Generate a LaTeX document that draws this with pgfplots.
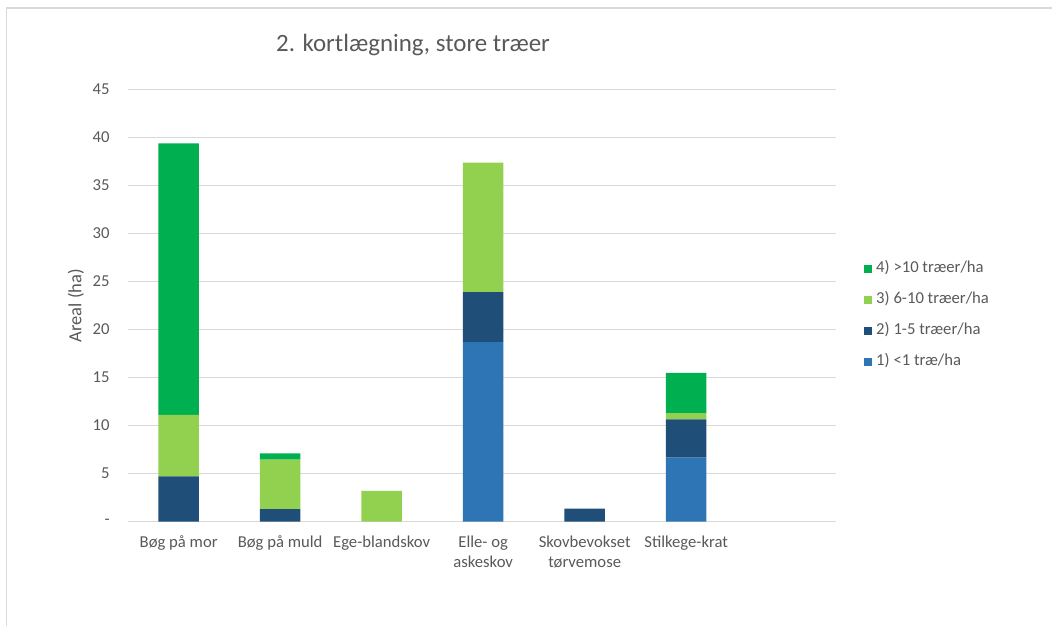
\documentclass[border=0pt]{standalone}
\usepackage{fontspec}
\setmainfont{Carlito}
\usepackage{pgfplots}
\pgfplotsset{compat=1.18}
\definecolor{cA}{HTML}{2E75B6}
\definecolor{cB}{HTML}{1F4E79}
\definecolor{cC}{HTML}{92D050}
\definecolor{cD}{HTML}{00B050}
\definecolor{txt}{HTML}{595959}
\definecolor{gridc}{HTML}{D9D9D9}
\pgfplotsset{sqlegend/.style={legend image code/.code={\fill[##1] (0pt,-3pt) rectangle (6pt,3pt);}}}
\begin{document}
\begin{tikzpicture}[x=0.75pt,y=0.75pt]
\path[use as bounding box] (0,0) rectangle (1052,626);
\draw[gridc, line width=1.2pt] (6.5,0) -- (6.5,618) -- (1052,618);
\node[font=\fontsize{18.7}{22}\selectfont, text=txt] at (413,581) {2. kortlægning, store træer};
\begin{axis}[
  at={(126,108.8)}, anchor=south west,
  scale only axis, width=531pt, height=324pt,
  ybar stacked, bar width=0.4,
  xmin=-0.5, xmax=6.475, ymin=0, ymax=45,
  xtick={0,1,2,3,4,5},
  xticklabels={Bøg på mor, Bøg på muld, Ege-blandskov, {Elle- og\\askeskov}, {Skovbevokset\\tørvemose}, Stilkege-krat},
  ytick={0,5,...,45},
  yticklabels={-,5,10,15,20,25,30,35,40,45},
  ymajorgrids, grid style={gridc, line width=0.9pt},
  axis line style={draw=none},
  major tick length=0pt,
  tick label style={font=\fontsize{12.5}{15}\selectfont, text=txt, inner sep=0pt},
  xticklabel style={align=center, yshift=-10.5pt},
  yticklabel style={xshift=-13.5pt},
  ylabel={Areal (ha)},
  ylabel style={at={(axis description cs:-0.0735,0.5)}, anchor=center, font=\fontsize{13.9}{16}\selectfont, text=txt},
  reverse legend,
  legend style={draw=none, fill=none, at={(axis description cs:1.034,0.61)}, anchor=north west,
    font=\fontsize{12.5}{15}\selectfont, text=txt, row sep=11.25pt, column sep=3pt,
    nodes={inner sep=0pt, text height=9pt, text depth=3pt}},
  legend cell align=left,
]
\addplot[fill=cA, draw=none, sqlegend] coordinates {(0,0) (1,0) (2,0) (3,18.7) (4,0) (5,6.65)};
\addplot[fill=cB, draw=none, sqlegend] coordinates {(0,4.7) (1,1.3) (2,0) (3,5.2) (4,1.35) (5,4.0)};
\addplot[fill=cC, draw=none, sqlegend] coordinates {(0,6.4) (1,5.15) (2,3.2) (3,13.5) (4,0) (5,0.65)};
\addplot[fill=cD, draw=none, sqlegend] coordinates {(0,28.3) (1,0.65) (2,0) (3,0) (4,0) (5,4.2)};
\legend{1) <1 træ/ha, 2) 1-5 træer/ha, 3) 6-10 træer/ha, 4) >10 træer/ha}
\end{axis}
\end{tikzpicture}
\end{document}
